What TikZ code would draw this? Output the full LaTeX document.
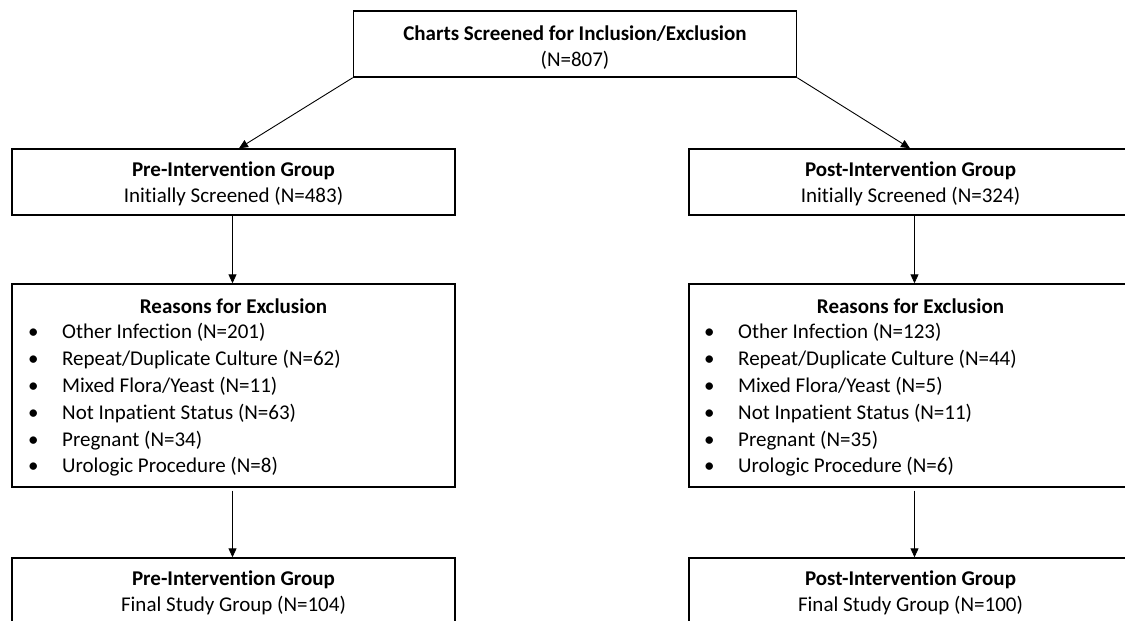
\documentclass[tikz,border=0pt]{standalone}
\usepackage{fontspec}
\setmainfont{Carlito}[Ligatures=NoCommon]
\usetikzlibrary{arrows.meta}
\begin{document}
\begin{tikzpicture}[x=1pt,y=-1pt,
  box/.style={draw=black,line width=1.4pt,inner sep=0pt,minimum width=443pt},
  txt/.style={align=center,inner sep=0pt,font=\fontsize{21}{26}\selectfont},
  lst/.style={align=left,inner sep=0pt,anchor=west,font=\fontsize{21}{26.8}\selectfont},
  conn/.style={line width=0.9pt,-{Triangle[length=9pt,width=8pt]}}
]
\clip (0,0) rectangle (1125,621);
\fill[white] (0,0) rectangle (1125,621);
\newcommand{\bl}{\makebox[34pt][l]{\textbullet}}
% boxes
\node[box,minimum height=66pt] (top) at (575,44) {};
\node[box,minimum height=66pt] (pre) at (233.5,182) {};
\node[box,minimum height=66pt] (post) at (910.5,182) {};
\node[box,minimum height=203pt] (resL) at (233.5,385.5) {};
\node[box,minimum height=203pt] (resR) at (910.5,385.5) {};
\node[box,minimum height=80pt] (finL) at (233.5,598) {};
\node[box,minimum height=80pt] (finR) at (910.5,598) {};
% texts
\node[txt] (topT) at (575,48) {\textbf{Charts Screened for Inclusion/Exclusion}\\(N=807)};
\node[txt] (preT) at (233.5,184) {\textbf{Pre-Intervention Group}\\Initially Screened (N=483)};
\node[txt] (postT) at (910.5,184) {\textbf{Post-Intervention Group}\\Initially Screened (N=324)};
\node[txt] (resLT) at (233.5,306) {\textbf{Reasons for Exclusion}};
\node[txt] (resRT) at (910.5,306) {\textbf{Reasons for Exclusion}};
\node[lst] (resLL) at (28,400) {\bl Other Infection (N=201)\\\bl Repeat/Duplicate Culture (N=62)\\\bl Mixed Flora/Yeast (N=11)\\\bl Not Inpatient Status (N=63)\\\bl Pregnant (N=34)\\\bl Urologic Procedure (N=8)};
\node[lst] (resRL) at (704,400) {\bl Other Infection (N=123)\\\bl Repeat/Duplicate Culture (N=44)\\\bl Mixed Flora/Yeast (N=5)\\\bl Not Inpatient Status (N=11)\\\bl Pregnant (N=35)\\\bl Urologic Procedure (N=6)};
\node[txt] (finLT) at (233.5,592.5) {\textbf{Pre-Intervention Group}\\Final Study Group (N=104)};
\node[txt] (finRT) at (910.5,592.5) {\textbf{Post-Intervention Group}\\Final Study Group (N=100)};
% connectors
\draw[conn] (top.south west) -- ([xshift=5.5pt]pre.north);
\draw[conn] (top.south east) -- ([xshift=-0.5pt]post.north);
\draw[conn] ([xshift=-1pt]pre.south) -- ([xshift=-1pt]resL.north);
\draw[conn] ([xshift=4pt]post.south) -- ([xshift=4pt]resR.north);
\draw[conn] ([xshift=-1pt,yshift=-3pt]resL.south) -- ([xshift=-1pt]finL.north);
\draw[conn] ([xshift=4pt,yshift=-3pt]resR.south) -- ([xshift=4pt]finR.north);
\end{tikzpicture}
\end{document}
